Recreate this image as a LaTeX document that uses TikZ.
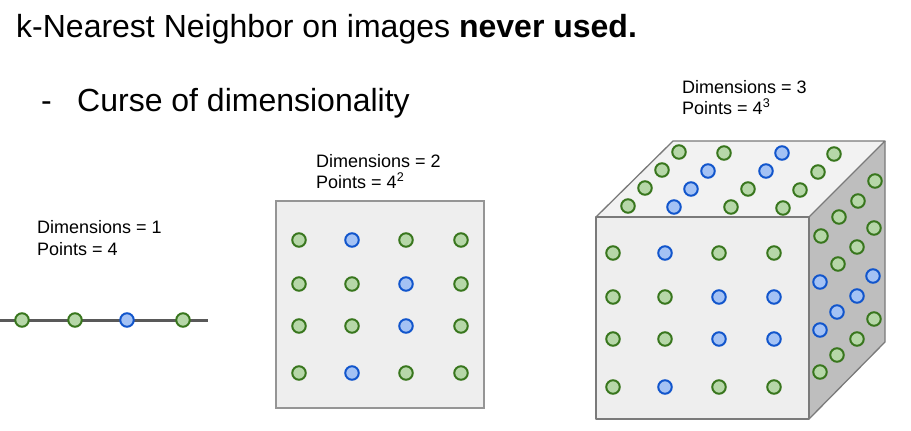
\documentclass[tikz,border=0pt]{standalone}
\usepackage{fontspec}
\setmainfont{Liberation Sans}
\definecolor{gfill}{HTML}{B6D7A8}
\definecolor{gline}{HTML}{38761D}
\definecolor{bfill}{HTML}{A4C2F4}
\definecolor{bline}{HTML}{1155CC}
\definecolor{facefront}{HTML}{EEEEEE}
\definecolor{facetop}{HTML}{F2F2F2}
\definecolor{faceside}{HTML}{BEBEBE}
\definecolor{edgegray}{HTML}{7A7A7A}
\definecolor{axisgray}{HTML}{595959}
\begin{document}
\begin{tikzpicture}[x=1pt,y=-1pt,
  gdot/.style={circle,draw=gline,fill=gfill,line width=2pt,minimum size=13.5pt,inner sep=0pt},
  bdot/.style={circle,draw=bline,fill=bfill,line width=2pt,minimum size=13.5pt,inner sep=0pt},
  lbl/.style={anchor=base west,inner sep=0pt,font=\fontsize{18}{21}\selectfont},
  big/.style={anchor=base west,inner sep=0pt,font=\fontsize{32}{38}\selectfont},
  face/.style={draw=edgegray,line width=1.3pt,line join=round},
  axisline/.style={draw=axisgray,line width=3pt}]
\useasboundingbox (0,0) rectangle (911,431);
% titles
\node[big] (title) at (16,37) {k-Nearest Neighbor on images \textbf{never used.}};
\node[big] (dash) at (41,111) {-};
\node[big] (sub) at (77,111) {Curse of dimensionality};
% 1D
\node[lbl] (d1a) at (37,233) {Dimensions = 1};
\node[lbl] (d1b) at (37,255) {Points = 4};
\coordinate (l0) at (0,320);
\coordinate (l1) at (208,320);
\draw[axisline] (l0) -- (l1);
\node[gdot] (p1) at (22,320) {};
\node[gdot] (p2) at (75,320) {};
\node[bdot] (p3) at (127,320) {};
\node[gdot] (p4) at (183,320) {};
% 2D
\node[lbl] (d2a) at (316,167) {Dimensions = 2};
\node[lbl] (d2b) at (316,188) {Points = 4\textsuperscript{2}};
\draw[draw=edgegray!80,fill=facefront,line width=1.3pt] (276,201) rectangle (484,408);
\foreach \r/\y/\cols in {1/240/{g,b,g,g},2/284/{g,g,b,g},3/326/{g,g,b,g},4/373/{g,b,g,g}}{
  \foreach \c [count=\i] in \cols {
    \pgfmathsetmacro{\xx}{{299,352,406,461}[\i-1]}
    \node[\c dot] (s\r\i) at (\xx,\y) {};
  }
}
% 3D
\node[lbl] (d3a) at (682,93) {Dimensions = 3};
\node[lbl] (d3b) at (682,114) {Points = 4\textsuperscript{3}};
\fill[facetop] (596,217) -- (673,141) -- (885,141) -- (809,217) -- cycle;
\fill[faceside] (809,217) -- (885,141) -- (885,342) -- (809,419) -- cycle;
\fill[facefront] (596,217) rectangle (809,419);
\draw[face] (596,217) -- (673,141) -- (885,141) -- (809,217);
\draw[face] (885,141) -- (885,342) -- (809,419);
\draw[face] (596,217) rectangle (809,419);
% top face dots
\foreach \x/\y/\c [count=\k] in {679/152/g,724/153/g,782/153/b,834/154/g,
  662/170/g,708/171/b,766/171/b,818/172/g,
  645/188/g,691/189/b,748/189/g,800/190/g,
  628/206/g,674/207/b,731/207/g,783/208/g}{
  \node[\c dot] (t\k) at (\x,\y) {};
}
% right face dots
\foreach \x/\y/\c [count=\k] in {821/236/g,839/217/g,858/201/g,875/181/g,
  820/282/b,838/264/g,857/247/g,874/228/g,
  820/330/b,837/312/b,857/296/b,873/276/b,
  820/372/g,837/355/g,857/339/g,874/319/g}{
  \node[\c dot] (r\k) at (\x,\y) {};
}
% front face dots
\foreach \r/\y/\cols in {1/253/{g,b,g,g},2/297/{g,g,b,b},3/339/{g,g,b,b},4/387/{g,b,g,g}}{
  \foreach \c [count=\i] in \cols {
    \pgfmathsetmacro{\xx}{{613,665,719,774}[\i-1]}
    \node[\c dot] (f\r\i) at (\xx,\y) {};
  }
}
\end{tikzpicture}
\end{document}
